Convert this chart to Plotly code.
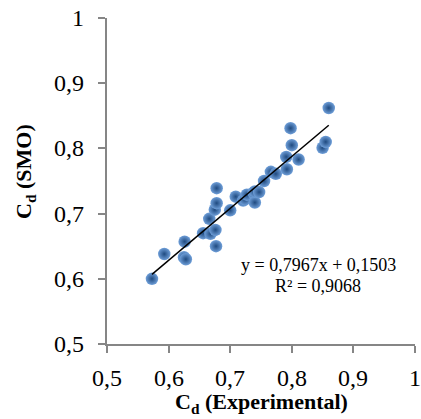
import numpy as np
import plotly.graph_objects as go

# Data
cd_experimental = [0.573, 0.593, 0.626, 0.625, 0.628, 0.656, 0.666, 0.668, 0.676, 0.677,
                   0.675, 0.678, 0.678, 0.700, 0.709, 0.721, 0.724, 0.727, 0.738, 0.740,
                   0.740, 0.747, 0.755, 0.766, 0.774, 0.791, 0.792, 0.798, 0.800, 0.811,
                   0.850, 0.855, 0.860]
cd_smo = [0.600, 0.638, 0.657, 0.633, 0.630, 0.670, 0.692, 0.669, 0.675, 0.650,
          0.706, 0.716, 0.739, 0.705, 0.726, 0.720, 0.722, 0.729, 0.732, 0.717,
          0.734, 0.733, 0.750, 0.764, 0.761, 0.787, 0.768, 0.831, 0.805, 0.783,
          0.801, 0.810, 0.862]
slope = 0.7967
intercept = 0.1503
r2 = 0.9068
tick_vals = [0.5, 0.6, 0.7, 0.8, 0.9, 1.0]
tick_text = ["0,5", "0,6", "0,7", "0,8", "0,9", "1"]

x_line = np.array([min(cd_experimental), max(cd_experimental)])
y_line = slope * x_line + intercept

FONT = "Liberation Serif"

fig = go.Figure()
fig.add_trace(go.Scatter(
    x=cd_experimental, y=cd_smo, mode="markers",
    marker=dict(size=12.5, color="#6f9fd9",
                gradient=dict(type="radial", color="#1f4a80"),
                line=dict(width=0)),
    hoverinfo="skip", showlegend=False))
fig.add_trace(go.Scatter(
    x=x_line, y=y_line, mode="lines",
    line=dict(color="black", width=1.5), showlegend=False, hoverinfo="skip"))

eq_text = "y = " + f"{slope:.4f}".replace(".", ",") + "x + " + f"{intercept:.4f}".replace(".", ",")
r_text = "R² = " + f"{r2:.4f}".replace(".", ",")
fig.add_annotation(x=0.843, y=0.6215, xref="x", yref="y", text=eq_text, showarrow=False,
                   font=dict(family=FONT, size=18, color="black"))
fig.add_annotation(x=0.843, y=0.5895, xref="x", yref="y", text=r_text, showarrow=False,
                   font=dict(family=FONT, size=18, color="black"))

# Tick labels drawn as text positioned on the axes' own scales
tick_font = dict(family=FONT, size=24, color="black")
for v, t in zip(tick_vals, tick_text):
    fig.add_annotation(x=v, y=0, xref="x", yref="paper", text=t, showarrow=False,
                       xanchor="center", yanchor="middle", yshift=-34, font=tick_font)
    fig.add_annotation(x=0, y=v, xref="paper", yref="y", text=t, showarrow=False,
                       xanchor="right", yanchor="middle", xshift=-21, font=tick_font)

title_font = dict(family=FONT, size=22, color="black")
fig.add_annotation(x=0.5, y=0, xref="paper", yref="paper",
                   text="<b>C<sub>d</sub> (Experimental)</b>", showarrow=False,
                   xanchor="center", yanchor="middle", yshift=-59, font=title_font)
fig.add_annotation(x=0, y=0.5, xref="paper", yref="paper",
                   text="<b>C<sub>d</sub> (SMO)</b>", showarrow=False, textangle=-90,
                   xanchor="center", yanchor="middle", xshift=-82, yshift=9, font=title_font)

fig.update_layout(
    template="none",
    width=421, height=419,
    margin=dict(l=107, r=6, t=18, b=75),
    paper_bgcolor="white", plot_bgcolor="white",
    font=dict(family=FONT, size=22, color="black"),
)
for upd in (fig.update_xaxes, fig.update_yaxes):
    upd(range=[0.5, 1.0], tickmode="array", tickvals=tick_vals, showticklabels=False,
        showgrid=False, zeroline=False, showline=True, linecolor="#868686", linewidth=1.5,
        ticks="outside", ticklen=7, tickcolor="#868686", tickwidth=1.5)
fig.write_html("out.html")
